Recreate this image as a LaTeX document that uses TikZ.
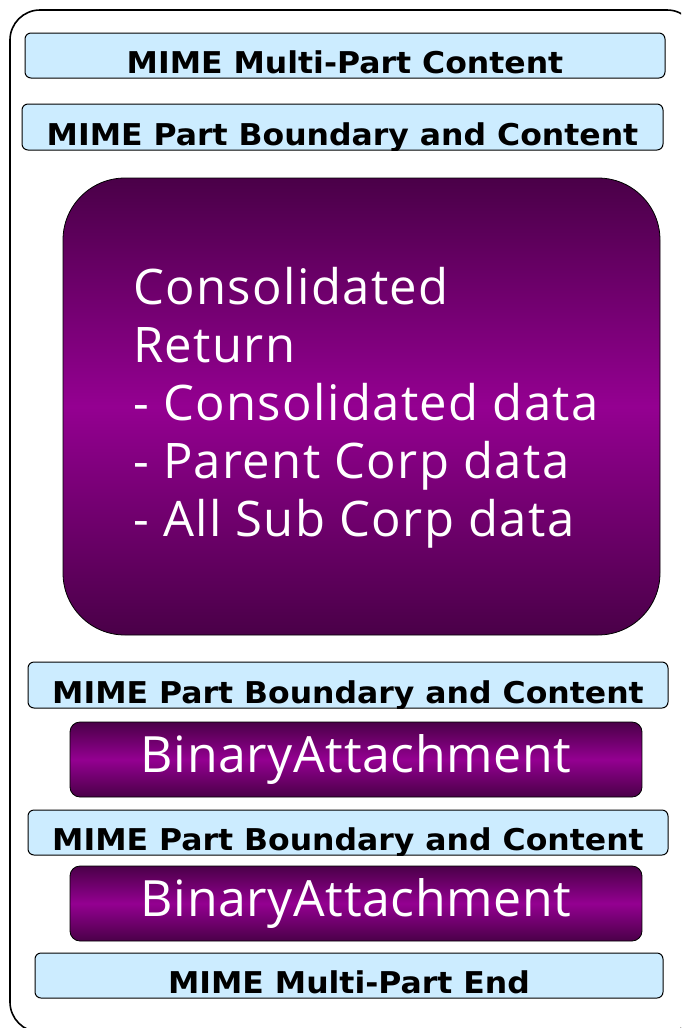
\documentclass[tikz,border=0pt]{standalone}
\usepackage{fontspec}
\setmainfont{DejaVu Sans}
\newfontfamily\labelfont[FakeStretch=1.05]{DejaVu Sans}
\newfontfamily\thinfont[LetterSpace=2.8]{Open Sans}
\newfontfamily\binfont[LetterSpace=1.2]{Open Sans}
\definecolor{lblue}{RGB}{204,236,255}
\definecolor{pdark}{RGB}{74,0,72}
\definecolor{pbright}{RGB}{148,0,145}
\begin{document}
\begin{tikzpicture}[x=1pt,y=-1pt,line join=round,
	mime/.style={draw,line width=1pt,rounded corners=6pt,fill=lblue,inner sep=0pt,
		path picture={\node[anchor=base,inner sep=0pt,font=\labelfont\bfseries\fontsize{30}{30}\selectfont]
			at ([yshift=4.5pt]path picture bounding box.south) {#1};}},
	purp/.style={draw,line width=0.8pt,top color=pdark,bottom color=pdark,middle color=pbright,
		text=white,inner sep=0pt},
	bin/.style={purp,rounded corners=10pt,minimum width=572pt,minimum height=75pt,
		font=\binfont\fontsize{50}{50}\selectfont}]
	\useasboundingbox (0,0) rectangle (681,1028);
	\clip (0,0) rectangle (681,1028);
	% outer frame
	\draw[line width=1.6pt,rounded corners=30pt] (10,1032) rectangle (697,10);
	% header and boundaries
	\node[mime={MIME Multi-Part Content},minimum width=640pt,minimum height=45pt] (H1) at (345,55.5) {};
	\node[mime={MIME Part Boundary and Content},minimum width=641pt,minimum height=46pt] (P1) at (342.5,127) {};
	% consolidated return
	\node[purp,rounded corners=62pt,minimum width=597pt,minimum height=457pt] (R) at (361.5,406.5) {};
	\node[anchor=north west,text=white,align=left,inner sep=0pt,
		font=\thinfont\fontsize{49}{58}\selectfont] (RT) at (133,267)
		{Consolidated\\Return\\- Consolidated data\\- Parent Corp data\\- All Sub Corp data};
	% attachments
	\node[mime={MIME Part Boundary and Content},minimum width=640pt,minimum height=46pt] (P2) at (348,685) {};
	\node[bin] (B1) at (356,759.5) {BinaryAttachment};
	\node[mime={MIME Part Boundary and Content},minimum width=640pt,minimum height=45pt] (P3) at (348,832.5) {};
	\node[bin] (B2) at (356,903.5) {BinaryAttachment};
	\node[mime={MIME Multi-Part End},minimum width=628pt,minimum height=45pt] (E1) at (349,975.5) {};
\end{tikzpicture}
\end{document}
